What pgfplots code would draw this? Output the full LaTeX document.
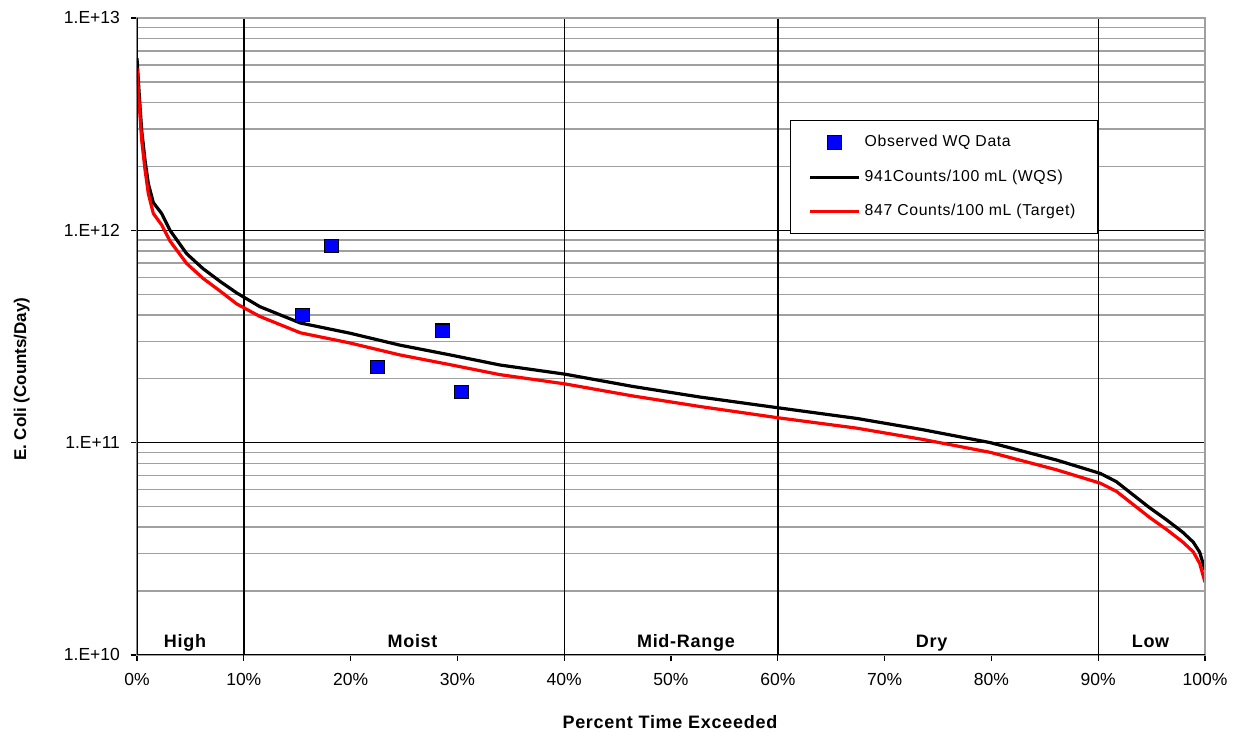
\documentclass[border=0pt]{standalone}
\usepackage{fontspec}
\setmainfont{Liberation Sans}
\newfontfamily\lsfont[LetterSpace=4]{Liberation Sans}
\usepackage{pgfplots}
\pgfplotsset{compat=1.18}
\definecolor{obsblue}{RGB}{0,0,255}
\definecolor{gridgray}{RGB}{160,160,160}
\pgfplotsset{
  linelegend/.style={legend image code/.code={\draw[##1] (0pt,0pt) -- (24.5pt,0pt);}},
  marklegend/.style={legend image code/.code={\draw[##1] plot coordinates {(12.25pt,0pt)};}},
}

\pgfplotstableread{
x y
0 6.46e12
0.22 4.27e12
0.44 2.95e12
0.75 2.14e12
1.06 1.66e12
1.53 1.35e12
2.31 1.20e12
3.09 1.00e12
4.65 7.76e11
6.18 6.60e11
7.77 5.75e11
9.34 5.07e11
11.5 4.37e11
15.3 3.66e11
19.9 3.28e11
24.6 2.88e11
29.3 2.59e11
34.0 2.32e11
40.1 2.10e11
46.4 1.84e11
52.7 1.64e11
60.0 1.46e11
67.4 1.30e11
73.6 1.15e11
79.9 1.00e11
86.1 8.28e10
90.2 7.16e10
91.7 6.55e10
93.3 5.66e10
94.85 4.92e10
96.4 4.33e10
97.9 3.79e10
98.9 3.40e10
99.5 3.05e10
100 2.51e10
}\wqs

\pgfplotstableread{
x y
0 5.80e12
0.22 3.84e12
0.44 2.66e12
0.75 1.93e12
1.06 1.49e12
1.53 1.20e12
2.31 1.06e12
3.09 8.90e11
4.65 6.98e11
6.18 5.94e11
7.77 5.18e11
9.34 4.50e11
11.5 3.93e11
15.3 3.29e11
19.9 2.95e11
24.6 2.59e11
29.3 2.33e11
34.0 2.09e11
40.1 1.89e11
46.4 1.66e11
52.7 1.48e11
60.0 1.31e11
67.4 1.17e11
73.6 1.035e11
79.9 9.00e10
86.1 7.45e10
90.2 6.44e10
91.7 5.90e10
93.3 5.10e10
94.85 4.43e10
96.4 3.90e10
97.9 3.41e10
98.9 3.06e10
99.5 2.70e10
100 2.20e10
}\target

\pgfplotstableread{
x y
15.5 3.99e11
18.2 8.44e11
22.5 2.27e11
28.6 3.36e11
30.4 1.73e11
}\obs

\begin{document}
\begin{tikzpicture}
\begin{axis}[
  scale only axis,
  width=534pt, height=318.5pt,
  ymode=log,
  xmin=0, xmax=100,
  ymin=1e10, ymax=1e13,
  xtick={0,10,...,100},
  xticklabels={0\%,10\%,20\%,30\%,40\%,50\%,60\%,70\%,80\%,90\%,100\%},
  ytick={1e10,1e11,1e12,1e13},
  yticklabels={1.E+10,1.E+11,1.E+12,1.E+13},
  tick label style={font=\fontsize{8.75}{10}\selectfont},
  xticklabel style={yshift=-2.5pt},
  yticklabel style={xshift=-2pt},
  tick align=outside,
  major tick length=3pt,
  minor tick length=0pt,
  tick style={black, line width=0.6pt},
  xtick pos=bottom, ytick pos=left,
  ymajorgrids, yminorgrids,
  major grid style={black, line width=0.7pt},
  minor grid style={gridgray, line width=0.7pt},
  extra x ticks={10,40,60,90},
  extra x tick labels={},
  extra x tick style={grid=major, major grid style={black, line width=0.7pt}},
  axis line style={gridgray, line width=0.7pt},
  xlabel={\lsfont\bfseries Percent Time Exceeded},
  xlabel style={font=\fontsize{9}{11}\selectfont, at={(axis description cs:0.499,-0.105)}, anchor=center},
  ylabel={E. Coli (Counts/Day)},
  ylabel style={font=\fontsize{8.5}{10}\selectfont\bfseries, at={(axis description cs:-0.108,0.433)}, anchor=center},
  legend style={at={(0.6114,0.8399)}, anchor=north west, draw=black, line width=0.5pt, fill=white,
    font=\fontsize{7.9}{9.5}\selectfont, cells={anchor=west}, row sep=6pt,
    inner xsep=9pt, inner ysep=5.5pt},
  legend cell align=left,
]
\addplot[only marks, mark=square*, mark size=3.4pt, mark options={fill=obsblue, draw=black, line width=0.6pt},
  marklegend] table {\obs};
\addlegendentry{\lsfont Observed WQ Data}
\addplot[black, line width=1.6pt, no marks, linelegend] table {\wqs};
\addlegendentry{\lsfont 941Counts/100 mL (WQS)}
\addplot[red, line width=1.6pt, no marks, linelegend] table {\target};
\addlegendentry{\lsfont 847 Counts/100 mL (Target)}

\node[font=\fontsize{9}{11}\selectfont\lsfont\bfseries, anchor=base] at (axis cs:4.5,1.08e10) {High};
\node[font=\fontsize{9}{11}\selectfont\lsfont\bfseries, anchor=base] at (axis cs:25.8,1.08e10) {Moist};
\node[font=\fontsize{9}{11}\selectfont\lsfont\bfseries, anchor=base] at (axis cs:51.4,1.08e10) {Mid-Range};
\node[font=\fontsize{9}{11}\selectfont\lsfont\bfseries, anchor=base] at (axis cs:74.4,1.08e10) {Dry};
\node[font=\fontsize{9}{11}\selectfont\lsfont\bfseries, anchor=base] at (axis cs:94.9,1.08e10) {Low};

\draw[gridgray, line width=0.7pt] (rel axis cs:0,1) -- (rel axis cs:1,1) -- (rel axis cs:1,0);
\draw[black, line width=0.7pt] (rel axis cs:0,1) -- (rel axis cs:0,0) -- (rel axis cs:1,0);
\end{axis}
\pgfresetboundingbox
\path (current axis.south west) ++(-68.5pt,-39pt) coordinate (bbA);
\path (current axis.north east) ++(16pt,9pt) coordinate (bbB);
\path (bbA) rectangle (bbB);
\end{tikzpicture}
\end{document}
